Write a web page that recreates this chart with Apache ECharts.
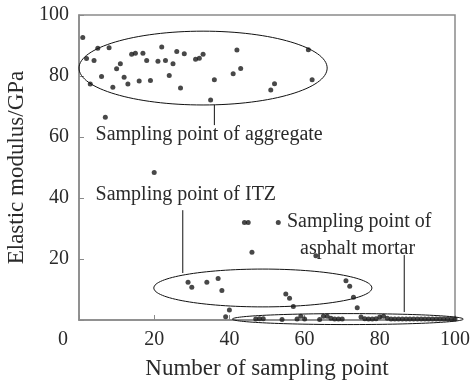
<!DOCTYPE html>
<html>
<head>
<meta charset="utf-8">
<script src="https://cdn.jsdelivr.net/npm/echarts@6/dist/echarts.min.js"></script>
<style>
  html, body { margin: 0; padding: 0; background: #fff; }
  #grafico { width: 475px; height: 382px; }
</style>
</head>
<body>
<div id="grafico"></div>
<script>
// Eixo x: número do ponto de amostragem (1..100)
const numeroPonto = [
  1, 2, 3, 4, 5, 6, 7, 8, 9, 10, 11, 12, 13, 14, 15, 16, 17, 18, 19, 20,
  21, 22, 23, 24, 25, 26, 27, 28, 29, 30, 31, 32, 33, 34, 35, 36, 37, 38, 39, 40,
  41, 42, 43, 44, 45, 46, 47, 48, 49, 50, 51, 52, 53, 54, 55, 56, 57, 58, 59, 60,
  61, 62, 63, 64, 65, 66, 67, 68, 69, 70, 71, 72, 73, 74, 75, 76, 77, 78, 79, 80,
  81, 82, 83, 84, 85, 86, 87, 88, 89, 90, 91, 92, 93, 94, 95, 96, 97, 98, 99, 100
];

// Módulo elástico (GPa); null = ponto não visível
const moduloElastico = [
  92.6, 85.7, 77.4, 85.1, 89.1, 79.8, 66.5, 89.3, 76.3, 82.4,
  84.0, 79.6, 77.4, 87.1, 87.5, 78.4, 87.5, 85.1, 78.5, 48.4,
  84.8, 89.5, 85.1, 80.2, 84.0, 88.0, 76.1, 87.3, 12.4, 10.7,
  85.5, 85.8, 87.1, 12.4, 72.1, 78.8, 13.6, 9.7, 1.1, 3.3,
  80.7, 88.5, 82.5, 32.0, 32.0, 22.2, 0.3, 0.4, 0.4, null,
  75.4, 77.5, 32.0, 0.2, 8.5, 7.1, 4.4, 0.3, 1.2, 0.3,
  88.6, 78.8, 21.1, 0.2, 1.2, 1.2, 0.6, 0.3, 0.3, 0.3,
  12.9, 11.1, 7.5, 4.0, 1.0, 0.4, 0.3, 0.3, 0.4, 1.0,
  1.2, 0.6, 0.3, 0.3, 0.3, 0.3, 0.3, 0.3, 0.3, 0.3,
  0.3, 0.3, 0.3, 0.3, 0.3, 0.3, 0.3, 0.3, 0.3, 0.3
];

// Rótulos dos eixos
const ticksX = [0, 20, 40, 60, 80, 100];
const ticksY = [0, 20, 40, 60, 80, 100];

const fonte = "'Liberation Serif', 'DejaVu Serif', serif";
const corEixo = '#8a8a8a';
const corTexto = '#2a2a2a';

const pontos = numeroPonto
  .map((n, i) => [n, moduloElastico[i]])
  .filter(p => p[1] !== null);

const meuGrafico = echarts.init(document.getElementById('grafico'));

meuGrafico.setOption({
  animation: false,
  grid: {
    left: 79, right: 20, top: 15, bottom: 62,
    outerBoundsMode: 'none',
    show: true, borderColor: corEixo, borderWidth: 1.5
  },
  xAxis: {
    type: 'value',
    min: ticksX[0], max: ticksX[ticksX.length - 1], interval: 20,
    name: 'Number of sampling point',
    nameLocation: 'middle',
    nameGap: 37,
    nameTextStyle: { fontFamily: fonte, fontSize: 23, color: corTexto },
    axisLine: { lineStyle: { color: corEixo, width: 1.5 } },
    axisTick: { inside: true, length: 5, lineStyle: { color: corEixo } },
    splitLine: { show: false },
    axisLabel: {
      fontFamily: fonte, fontSize: 20, color: corTexto, margin: 10,
      // o "0" fica deslocado para a esquerda, como na figura original
      formatter: v => v === 0 ? '{o|0}' : String(v),
      rich: { o: { fontFamily: fonte, fontSize: 20, color: corTexto, padding: [0, 32, 0, 0] } }
    }
  },
  yAxis: {
    type: 'value',
    min: ticksY[0], max: ticksY[ticksY.length - 1], interval: 20,
    name: 'Elastic modulus/GPa',
    nameLocation: 'middle',
    nameGap: 40,
    nameTextStyle: { fontFamily: fonte, fontSize: 23, color: corTexto },
    axisLine: { lineStyle: { color: corEixo, width: 1.5 } },
    axisTick: { inside: true, length: 5, lineStyle: { color: corEixo } },
    splitLine: { show: false },
    axisLabel: {
      fontFamily: fonte, fontSize: 20, color: corTexto, margin: 10,
      formatter: v => v === 0 ? '' : String(v)
    }
  },
  series: [{
    type: 'scatter',
    data: pontos,
    symbolSize: 5,
    itemStyle: { color: '#1a1a1a' }
  }]
});

// Anotações (elipses, linhas de chamada e textos) em coordenadas de dados
const px = (x, y) => meuGrafico.convertToPixel({ gridIndex: 0 }, [x, y]);

function elipse(cx, cy, rx, ry) {
  const c = px(cx, cy);
  const a = px(cx + rx, cy + ry);
  return {
    type: 'ellipse',
    shape: { cx: c[0], cy: c[1], rx: a[0] - c[0], ry: c[1] - a[1] },
    style: { fill: 'none', stroke: '#111', lineWidth: 1 },
    z: 10
  };
}

function linha(x, y1, y2) {
  const p1 = px(x, y1);
  const p2 = px(x, y2);
  return {
    type: 'line',
    shape: { x1: p1[0], y1: p1[1], x2: p2[0], y2: p2[1] },
    style: { stroke: '#111', lineWidth: 1 },
    z: 10
  };
}

function texto(x, y, conteudo) {
  const p = px(x, y);
  return {
    type: 'text',
    x: p[0], y: p[1],
    style: {
      text: conteudo, fill: corTexto,
      font: '20px ' + fonte,
      textAlign: 'left', textVerticalAlign: 'middle'
    },
    z: 20
  };
}

meuGrafico.setOption({
  graphic: [
    elipse(33.0, 82.6, 33.0, 12.1),
    linha(36.0, 70.5, 63.9),
    texto(4.4, 60.7, 'Sampling point of aggregate'),

    elipse(48.9, 10.5, 29.0, 6.2),
    linha(27.6, 36.0, 15.4),
    texto(4.4, 41.0, 'Sampling point of ITZ'),

    elipse(71.5, 0.3, 30.7, 1.8),
    linha(86.5, 21.3, 2.6),
    texto(55.3, 32.3, 'Sampling point of'),
    texto(58.8, 23.3, 'asphalt mortar')
  ]
});
</script>
</body>
</html>
